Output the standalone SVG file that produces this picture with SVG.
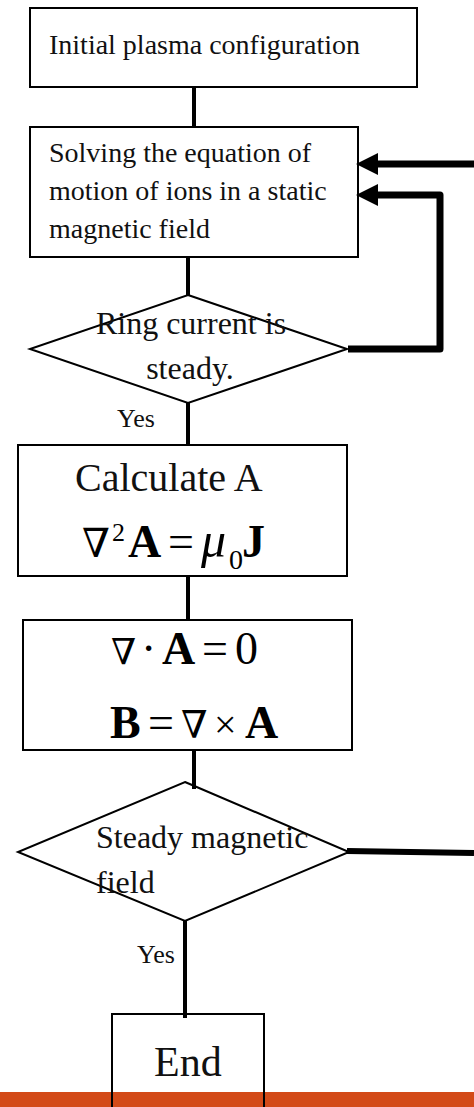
<svg xmlns="http://www.w3.org/2000/svg" width="474" height="1107" viewBox="0 0 474 1107">
<style>
.box{fill:none;stroke:#000;stroke-width:2}
.dia{fill:none;stroke:#000;stroke-width:2}
.t{font-family:"Liberation Serif","DejaVu Serif",serif;fill:#111}
.m{font-family:"Liberation Serif","DejaVu Serif",serif;fill:#000}
.b{font-weight:bold}
.i{font-style:italic}
.nab{font-family:"DejaVu Serif","Liberation Serif",serif;fill:#000}
.c{fill:none;stroke:#000;stroke-width:4}
.ct{fill:none;stroke:#000;stroke-width:7;stroke-linejoin:round}
</style>
<defs>
<marker id="arr" markerUnits="userSpaceOnUse" markerWidth="22" markerHeight="22" viewBox="0 0 22 22" refX="0" refY="11" orient="auto">
<path d="M0,0 L22,11 L0,22 z" fill="#000"/>
</marker>
</defs>
<rect width="474" height="1107" fill="#fff"/>
<rect x="0" y="1092" width="474" height="15" fill="#D34A18"/>

<g id="connectors">
<line class="c" x1="194" y1="87" x2="194" y2="127"/>
<line class="c" x1="188" y1="257" x2="188" y2="295"/>
<line class="c" x1="188" y1="403" x2="188" y2="445"/>
<line class="c" x1="188" y1="576" x2="188" y2="620"/>
<line class="c" x1="194" y1="750" x2="194" y2="789"/>
<line class="c" x1="185" y1="921" x2="185" y2="1018"/>
<path class="ct" d="M474,164 L378,164" marker-end="url(#arr)"/>
<path class="ct" d="M348,349 L440,349 L440,195 L378,195" marker-end="url(#arr)"/>
<path d="M347,851 L474,853" fill="none" stroke="#000" stroke-width="6"/>
<text class="t" x="117" y="427" font-size="26">Yes</text>
<text class="t" x="137" y="963" font-size="26">Yes</text>
</g>

<g id="n1">
<rect class="box" x="30" y="8" width="387" height="79"/>
<text class="t" x="49" y="54" font-size="28">Initial plasma configuration</text>
</g>

<g id="n2">
<rect class="box" x="30" y="127" width="328" height="130"/>
<text class="t" x="49" y="162" font-size="28">Solving the equation of</text>
<text class="t" x="49" y="200" font-size="28">motion of ions in a static</text>
<text class="t" x="49" y="238" font-size="28">magnetic field</text>
</g>

<g id="d1">
<polygon class="dia" points="188,295 347,349 188,403 30,349"/>
<text class="t" x="191" y="334" font-size="32" text-anchor="middle">Ring current is</text>
<text class="t" x="190" y="379" font-size="32" text-anchor="middle">steady.</text>
</g>

<g id="n3">
<rect class="box" x="18" y="445" width="329" height="131"/>
<text class="t" x="75" y="491" font-size="40">Calculate A</text>
<text class="nab" x="82" y="557" font-size="40">∇</text>
<text class="m" x="112" y="541" font-size="26">2</text>
<text class="m b" x="128" y="557" font-size="46">A</text>
<text class="m" x="168" y="557" font-size="46">=</text>
<text class="m i" x="201" y="557" font-size="50">μ</text>
<text class="m" x="229" y="569" font-size="28">0</text>
<text class="m b" x="242" y="557" font-size="46">J</text>
</g>

<g id="n4">
<rect class="box" x="23" y="620" width="329" height="130"/>
<text class="nab" x="111" y="664" font-size="36">∇</text>
<text class="m" x="141" y="664" font-size="46">·</text>
<text class="m b" x="162" y="664" font-size="46">A</text>
<text class="m" x="202" y="664" font-size="46">=</text>
<text class="m" x="235" y="664" font-size="46">0</text>
<text class="m b" x="110" y="738" font-size="46">B</text>
<text class="m" x="148" y="738" font-size="46">=</text>
<text class="nab" x="181" y="738" font-size="38">∇</text>
<text class="m" x="214" y="738" font-size="40">×</text>
<text class="m b" x="245" y="738" font-size="46">A</text>
</g>

<g id="d2">
<polygon class="dia" points="185,782 349,852 185,921 18,852"/>
<text class="t" x="96" y="848" font-size="32">Steady magnetic</text>
<text class="t" x="96" y="893" font-size="32">field</text>
</g>

<g id="n5">
<rect class="box" x="112" y="1014" width="152" height="100"/>
<text class="t" x="154" y="1076" font-size="42">End</text>
</g>
</svg>
